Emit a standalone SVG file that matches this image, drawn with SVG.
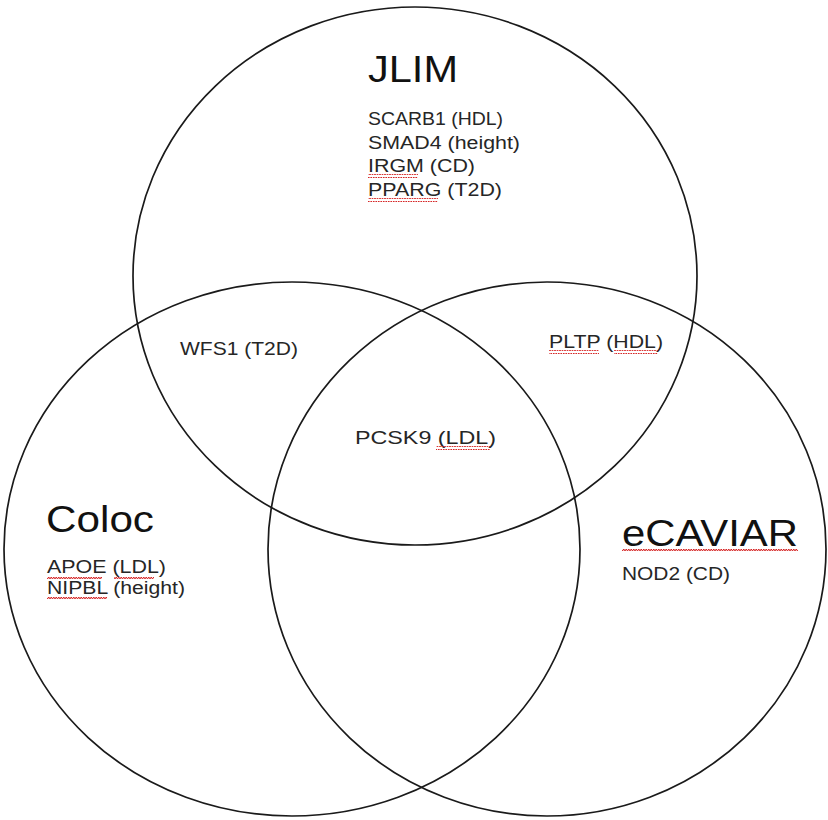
<svg xmlns="http://www.w3.org/2000/svg" width="828" height="820" viewBox="0 0 828 820">
<style>
.c{fill:none;stroke:#1a1a1a;stroke-width:1.7}
.t{font-family:"Liberation Sans",Arial,sans-serif;fill:#262626;font-size:18px}
.h{font-family:"Liberation Sans",Arial,sans-serif;fill:#111;font-size:36px}
.sq{fill:url(#wave)}
</style>
<defs>
<pattern id="wave" width="5" height="4" patternUnits="userSpaceOnUse">
<path d="M0,3 L1.25,1 L2.5,3 L3.75,1 L5,3" fill="none" stroke="#d42020" stroke-width="1"/>
</pattern>
</defs>
<rect width="828" height="820" fill="#fff"/>
<g id="jlim">
<ellipse class="c" cx="415" cy="276" rx="282" ry="269"/>
<text class="h" x="368" y="82" textLength="90" lengthAdjust="spacingAndGlyphs">JLIM</text>
<text class="t" x="368" y="125" textLength="135" lengthAdjust="spacingAndGlyphs">SCARB1 (HDL)</text>
<text class="t" x="368" y="149" textLength="152" lengthAdjust="spacingAndGlyphs">SMAD4 (height)</text>
<text class="t" x="368" y="172" textLength="107" lengthAdjust="spacingAndGlyphs">IRGM (CD)</text>
<text class="t" x="368" y="196" textLength="134" lengthAdjust="spacingAndGlyphs">PPARG (T2D)</text>
<rect class="sq" x="368" y="174" width="50" height="4"/>
<rect class="sq" x="368" y="198" width="70" height="4"/>
</g>
<g id="coloc">
<ellipse class="c" cx="292" cy="549" rx="288" ry="267"/>
<text class="h" x="46" y="532" textLength="108" lengthAdjust="spacingAndGlyphs">Coloc</text>
<text class="t" x="47" y="573" textLength="119" lengthAdjust="spacingAndGlyphs">APOE (LDL)</text>
<text class="t" x="47" y="594" textLength="138" lengthAdjust="spacingAndGlyphs">NIPBL (height)</text>
<rect class="sq" x="47" y="575" width="55" height="4"/>
<rect class="sq" x="114" y="575" width="40" height="4"/>
<rect class="sq" x="47" y="596" width="60" height="4"/>
</g>
<g id="ecaviar">
<ellipse class="c" cx="547" cy="549" rx="279" ry="267"/>
<text class="h" x="622" y="546" textLength="176" lengthAdjust="spacingAndGlyphs">eCAVIAR</text>
<text class="t" x="622" y="580" textLength="108" lengthAdjust="spacingAndGlyphs">NOD2 (CD)</text>
<rect class="sq" x="622" y="548" width="176" height="4"/>
</g>
<g id="jlim-coloc">
<text class="t" x="180" y="355" textLength="118" lengthAdjust="spacingAndGlyphs">WFS1 (T2D)</text>
</g>
<g id="jlim-ecaviar">
<text class="t" x="549" y="348" textLength="114" lengthAdjust="spacingAndGlyphs">PLTP (HDL)</text>
<rect class="sq" x="549" y="350" width="50" height="4"/>
<rect class="sq" x="614" y="350" width="44" height="4"/>
</g>
<g id="all">
<text class="t" x="355" y="444" textLength="141" lengthAdjust="spacingAndGlyphs">PCSK9 (LDL)</text>
<rect class="sq" x="436" y="446" width="54" height="4"/>
</g>
<g id="connectors"/>
</svg>
